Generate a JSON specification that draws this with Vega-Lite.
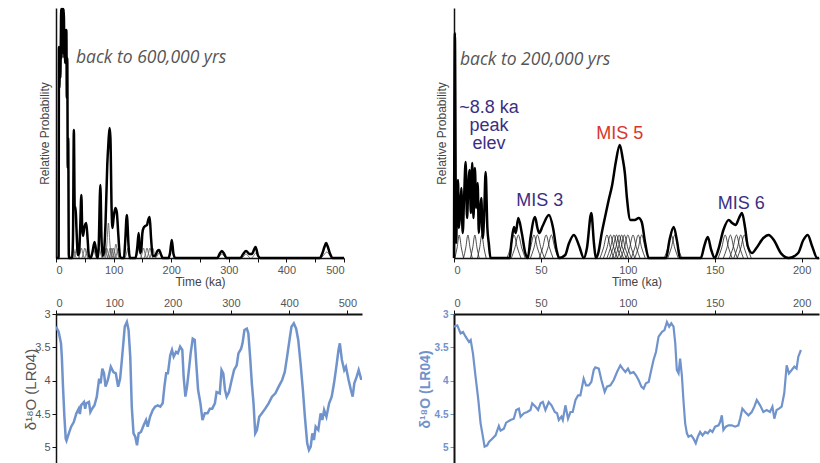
{
  "$schema": "https://vega.github.io/schema/vega-lite/v6.json",
  "padding": {"left": 23, "top": 4, "right": 0, "bottom": 0},
  "config": {"view": {"stroke": null}, "font": "Liberation Sans"},
  "datasets": {
    "sumL": [
      {"t":0,"p":0},{"t":4.5,"p":0},{"t":5.2,"p":211},{"t":6,"p":170},{"t":6.8,"p":211},{"t":7.5,"p":180},{"t":8.3,"p":211},{"t":9,"p":249},{"t":9.6,"p":200},{"t":10.3,"p":249},{"t":11,"p":205},{"t":11.7,"p":249},{"t":12.4,"p":205},{"t":13.1,"p":249},{"t":13.8,"p":240},{"t":14.5,"p":200},{"t":15.2,"p":228},{"t":15.9,"p":195},{"t":16.6,"p":228},{"t":17.3,"p":195},{"t":18,"p":228},{"t":18.8,"p":160},{"t":19.6,"p":200},{"t":20.4,"p":90},{"t":21.2,"p":120},{"t":22.3,"p":0},
      {"t":28,"p":0},{"t":29.5,"p":20},{"t":31,"p":128},{"t":32.5,"p":50},{"t":34,"p":51},{"t":35.5,"p":30},{"t":38,"p":3},{"t":40,"p":5},{"t":42,"p":30},{"t":44,"p":63},{"t":45.5,"p":30},{"t":47,"p":22},{"t":49,"p":30},{"t":52.5,"p":35},{"t":55,"p":18},{"t":57,"p":2},{"t":60,"p":0},{"t":63,"p":5},{"t":67,"p":16},{"t":70.5,"p":4},{"t":72.5,"p":0},{"t":74,"p":10},{"t":77,"p":73},{"t":79,"p":20},{"t":81,"p":2},{"t":83,"p":5},{"t":86,"p":35},{"t":89,"p":93},{"t":91,"p":115},{"t":93,"p":130},{"t":94.5,"p":120},{"t":96.5,"p":50},{"t":98,"p":30},{"t":100,"p":40},{"t":103,"p":50},{"t":105.5,"p":46},{"t":108,"p":25},{"t":111,"p":2},{"t":113,"p":0},{"t":118,"p":0},{"t":120,"p":15},{"t":123,"p":43},{"t":126,"p":12},{"t":128,"p":0},{"t":138,"p":0},{"t":141,"p":10},{"t":143.6,"p":25},{"t":146,"p":5},{"t":148,"p":8},{"t":150,"p":25},{"t":152,"p":30},{"t":155,"p":32},{"t":158,"p":33},{"t":160,"p":38},{"t":162.6,"p":41},{"t":165,"p":20},{"t":168,"p":2},{"t":172,"p":2},{"t":176,"p":7},{"t":179,"p":8},{"t":182,"p":4},{"t":185,"p":0},{"t":195,"p":0},{"t":198,"p":5},{"t":201,"p":18},{"t":204,"p":4},{"t":207,"p":0},{"t":280,"p":0},{"t":284,"p":4},{"t":288,"p":7},{"t":292,"p":4},{"t":296,"p":0},{"t":320,"p":0},{"t":325,"p":4},{"t":330,"p":7},{"t":336,"p":4},{"t":340,"p":4},{"t":346.5,"p":11},{"t":351,"p":2},{"t":355,"p":0},{"t":458,"p":0},{"t":462,"p":4},{"t":466,"p":11},{"t":469,"p":15},{"t":472,"p":11},{"t":476,"p":4},{"t":480,"p":0},{"t":500,"p":0}
    ],
    "compL": [
      {"id":"l1","t":25,"p":0},{"id":"l1","t":27.5,"p":4.5},{"id":"l1","t":30,"p":10},{"id":"l1","t":32.5,"p":4.5},{"id":"l1","t":35,"p":0},
      {"id":"l2","t":31,"p":0},{"id":"l2","t":33.5,"p":4.5},{"id":"l2","t":36,"p":10},{"id":"l2","t":38.5,"p":4.5},{"id":"l2","t":41,"p":0},
      {"id":"l3","t":39,"p":0},{"id":"l3","t":41.5,"p":4.5},{"id":"l3","t":44,"p":10},{"id":"l3","t":46.5,"p":4.5},{"id":"l3","t":49,"p":0},
      {"id":"l4","t":45,"p":0},{"id":"l4","t":47.5,"p":4.5},{"id":"l4","t":50,"p":10},{"id":"l4","t":52.5,"p":4.5},{"id":"l4","t":55,"p":0},
      {"id":"l5","t":50,"p":0},{"id":"l5","t":52.5,"p":4.5},{"id":"l5","t":55,"p":10},{"id":"l5","t":57.5,"p":4.5},{"id":"l5","t":60,"p":0},
      {"id":"l6","t":60,"p":0},{"id":"l6","t":62.5,"p":4.5},{"id":"l6","t":65,"p":10},{"id":"l6","t":67.5,"p":4.5},{"id":"l6","t":70,"p":0},
      {"id":"l7","t":70,"p":0},{"id":"l7","t":72.5,"p":4.5},{"id":"l7","t":75,"p":10},{"id":"l7","t":77.5,"p":4.5},{"id":"l7","t":80,"p":0},
      {"id":"l8","t":80,"p":0},{"id":"l8","t":82.5,"p":4.5},{"id":"l8","t":85,"p":10},{"id":"l8","t":87.5,"p":4.5},{"id":"l8","t":90,"p":0},
      {"id":"l9","t":83,"p":0},{"id":"l9","t":85.5,"p":4.5},{"id":"l9","t":88,"p":10},{"id":"l9","t":90.5,"p":4.5},{"id":"l9","t":93,"p":0},
      {"id":"l10","t":86,"p":0},{"id":"l10","t":88.5,"p":15},{"id":"l10","t":91,"p":35},{"id":"l10","t":93.5,"p":15},{"id":"l10","t":96,"p":0},
      {"id":"l11","t":89,"p":0},{"id":"l11","t":91.5,"p":4.5},{"id":"l11","t":94,"p":10},{"id":"l11","t":96.5,"p":4.5},{"id":"l11","t":99,"p":0},
      {"id":"l12","t":92,"p":0},{"id":"l12","t":94.5,"p":4.5},{"id":"l12","t":97,"p":10},{"id":"l12","t":99.5,"p":4.5},{"id":"l12","t":102,"p":0},
      {"id":"l13","t":95,"p":0},{"id":"l13","t":97.5,"p":4.5},{"id":"l13","t":100,"p":10},{"id":"l13","t":102.5,"p":4.5},{"id":"l13","t":105,"p":0},
      {"id":"l14","t":99,"p":0},{"id":"l14","t":101.5,"p":6},{"id":"l14","t":104,"p":14},{"id":"l14","t":106.5,"p":6},{"id":"l14","t":109,"p":0},
      {"id":"l15","t":103,"p":0},{"id":"l15","t":105.5,"p":4.5},{"id":"l15","t":108,"p":10},{"id":"l15","t":110.5,"p":4.5},{"id":"l15","t":113,"p":0},
      {"id":"l16","t":120,"p":0},{"id":"l16","t":122.5,"p":4.5},{"id":"l16","t":125,"p":10},{"id":"l16","t":127.5,"p":4.5},{"id":"l16","t":130,"p":0},
      {"id":"l17","t":139,"p":0},{"id":"l17","t":141.5,"p":4.5},{"id":"l17","t":144,"p":10},{"id":"l17","t":146.5,"p":4.5},{"id":"l17","t":149,"p":0},
      {"id":"l18","t":147,"p":0},{"id":"l18","t":149.5,"p":4.5},{"id":"l18","t":152,"p":10},{"id":"l18","t":154.5,"p":4.5},{"id":"l18","t":157,"p":0},
      {"id":"l19","t":153,"p":0},{"id":"l19","t":155.5,"p":4.5},{"id":"l19","t":158,"p":10},{"id":"l19","t":160.5,"p":4.5},{"id":"l19","t":163,"p":0},
      {"id":"l20","t":158,"p":0},{"id":"l20","t":160.5,"p":4.5},{"id":"l20","t":163,"p":10},{"id":"l20","t":165.5,"p":4.5},{"id":"l20","t":168,"p":0},
      {"id":"l21","t":163,"p":0},{"id":"l21","t":165.5,"p":4.5},{"id":"l21","t":168,"p":10},{"id":"l21","t":170.5,"p":4.5},{"id":"l21","t":173,"p":0},
      {"id":"l22","t":173,"p":0},{"id":"l22","t":176.5,"p":3},{"id":"l22","t":180,"p":6},{"id":"l22","t":183.5,"p":3},{"id":"l22","t":187,"p":0},
      {"id":"l23","t":281,"p":0},{"id":"l23","t":284.5,"p":2},{"id":"l23","t":288,"p":4},{"id":"l23","t":291.5,"p":2},{"id":"l23","t":295,"p":0},
      {"id":"l24","t":323,"p":0},{"id":"l24","t":326.5,"p":2},{"id":"l24","t":330,"p":4},{"id":"l24","t":333.5,"p":2},{"id":"l24","t":337,"p":0},
      {"id":"l25","t":340,"p":0},{"id":"l25","t":343.5,"p":2.5},{"id":"l25","t":347,"p":5},{"id":"l25","t":350.5,"p":2.5},{"id":"l25","t":354,"p":0},
      {"id":"l26","t":460,"p":0},{"id":"l26","t":465,"p":3},{"id":"l26","t":470,"p":6},{"id":"l26","t":475,"p":3},{"id":"l26","t":480,"p":0}
    ],
    "sumR": [
      {"t":0,"p":0},{"t":0.5,"p":225},{"t":1.2,"p":15},{"t":1.8,"p":60},{"t":2.3,"p":78},{"t":2.8,"p":30},{"t":3.5,"p":45},{"t":4.2,"p":70},{"t":5,"p":25},{"t":5.8,"p":60},{"t":6.7,"p":96},{"t":7.5,"p":40},{"t":8.2,"p":70},{"t":9,"p":88},{"t":9.7,"p":45},{"t":10.5,"p":95},{"t":11.2,"p":40},{"t":12,"p":90},{"t":12.8,"p":50},{"t":13.6,"p":75},{"t":14.3,"p":25},{"t":15,"p":45},{"t":15.7,"p":60},{"t":16.5,"p":20},{"t":17.3,"p":40},{"t":18.2,"p":86},{"t":19.2,"p":30},{"t":20,"p":15},{"t":21,"p":0},
      {"t":32,"p":0},{"t":33,"p":15},{"t":34.5,"p":31},{"t":35.5,"p":25},{"t":37,"p":40},{"t":39,"p":25},{"t":41,"p":5},{"t":42.5,"p":0},{"t":44,"p":20},{"t":46.6,"p":41},{"t":48,"p":30},{"t":49,"p":25},{"t":51,"p":32},{"t":54.6,"p":43},{"t":57,"p":30},{"t":59,"p":8},{"t":60.5,"p":0},{"t":64,"p":3},{"t":66,"p":14},{"t":69,"p":23},{"t":72,"p":12},{"t":74.7,"p":0},{"t":76.5,"p":10},{"t":79,"p":45},{"t":80.5,"p":15},{"t":81.6,"p":0},{"t":83,"p":5},{"t":85,"p":25},{"t":87.4,"p":45},{"t":89,"p":58},{"t":91,"p":73},{"t":93,"p":95},{"t":95.4,"p":113},{"t":97,"p":100},{"t":98.3,"p":85},{"t":99.5,"p":60},{"t":101.5,"p":38},{"t":104,"p":38},{"t":106.3,"p":40},{"t":108,"p":36},{"t":110,"p":15},{"t":112,"p":0},{"t":122,"p":0},{"t":124,"p":18},{"t":126.4,"p":31},{"t":128.5,"p":15},{"t":130,"p":0},{"t":142,"p":0},{"t":144,"p":12},{"t":146,"p":21},{"t":148,"p":8},{"t":150,"p":0},{"t":152,"p":8},{"t":155,"p":28},{"t":158,"p":38},{"t":160,"p":35},{"t":162,"p":33},{"t":164,"p":40},{"t":165.7,"p":45},{"t":167.5,"p":30},{"t":169,"p":12},{"t":171.5,"p":5},{"t":174,"p":10},{"t":178,"p":20},{"t":181,"p":23},{"t":184,"p":18},{"t":188,"p":5},{"t":192.5,"p":0},{"t":198,"p":5},{"t":201,"p":18},{"t":203.5,"p":23},{"t":206,"p":12},{"t":209,"p":0},{"t":210,"p":0}
    ],
    "compR": [
      {"id":"r1","t":30.5,"p":0},{"id":"r1","t":32.5,"p":10},{"id":"r1","t":34.5,"p":23},{"id":"r1","t":36.5,"p":10},{"id":"r1","t":38.5,"p":0},
      {"id":"r2","t":33,"p":0},{"id":"r2","t":35,"p":10},{"id":"r2","t":37,"p":23},{"id":"r2","t":39,"p":10},{"id":"r2","t":41,"p":0},
      {"id":"r3","t":42,"p":0},{"id":"r3","t":44,"p":10},{"id":"r3","t":46,"p":23},{"id":"r3","t":48,"p":10},{"id":"r3","t":50,"p":0},
      {"id":"r4","t":44,"p":0},{"id":"r4","t":46,"p":10},{"id":"r4","t":48,"p":23},{"id":"r4","t":50,"p":10},{"id":"r4","t":52,"p":0},
      {"id":"r5","t":49,"p":0},{"id":"r5","t":51,"p":10},{"id":"r5","t":53,"p":23},{"id":"r5","t":55,"p":10},{"id":"r5","t":57,"p":0},
      {"id":"r6","t":52,"p":0},{"id":"r6","t":54,"p":10},{"id":"r6","t":56,"p":23},{"id":"r6","t":58,"p":10},{"id":"r6","t":60,"p":0},
      {"id":"r7","t":84,"p":0},{"id":"r7","t":86,"p":10},{"id":"r7","t":88,"p":23},{"id":"r7","t":90,"p":10},{"id":"r7","t":92,"p":0},
      {"id":"r8","t":86,"p":0},{"id":"r8","t":88,"p":10},{"id":"r8","t":90,"p":23},{"id":"r8","t":92,"p":10},{"id":"r8","t":94,"p":0},
      {"id":"r9","t":88,"p":0},{"id":"r9","t":90,"p":10},{"id":"r9","t":92,"p":23},{"id":"r9","t":94,"p":10},{"id":"r9","t":96,"p":0},
      {"id":"r10","t":89.5,"p":0},{"id":"r10","t":91.5,"p":10},{"id":"r10","t":93.5,"p":23},{"id":"r10","t":95.5,"p":10},{"id":"r10","t":97.5,"p":0},
      {"id":"r11","t":91,"p":0},{"id":"r11","t":93,"p":10},{"id":"r11","t":95,"p":23},{"id":"r11","t":97,"p":10},{"id":"r11","t":99,"p":0},
      {"id":"r12","t":92.5,"p":0},{"id":"r12","t":94.5,"p":10},{"id":"r12","t":96.5,"p":23},{"id":"r12","t":98.5,"p":10},{"id":"r12","t":100.5,"p":0},
      {"id":"r13","t":94,"p":0},{"id":"r13","t":96,"p":10},{"id":"r13","t":98,"p":23},{"id":"r13","t":100,"p":10},{"id":"r13","t":102,"p":0},
      {"id":"r14","t":96,"p":0},{"id":"r14","t":98,"p":10},{"id":"r14","t":100,"p":23},{"id":"r14","t":102,"p":10},{"id":"r14","t":104,"p":0},
      {"id":"r15","t":99,"p":0},{"id":"r15","t":101,"p":10},{"id":"r15","t":103,"p":23},{"id":"r15","t":105,"p":10},{"id":"r15","t":107,"p":0},
      {"id":"r16","t":102,"p":0},{"id":"r16","t":104,"p":10},{"id":"r16","t":106,"p":23},{"id":"r16","t":108,"p":10},{"id":"r16","t":110,"p":0},
      {"id":"r17","t":104,"p":0},{"id":"r17","t":106,"p":10},{"id":"r17","t":108,"p":23},{"id":"r17","t":110,"p":10},{"id":"r17","t":112,"p":0},
      {"id":"r18","t":121,"p":0},{"id":"r18","t":123,"p":10},{"id":"r18","t":125,"p":23},{"id":"r18","t":127,"p":10},{"id":"r18","t":129,"p":0},
      {"id":"r19","t":123,"p":0},{"id":"r19","t":125,"p":10},{"id":"r19","t":127,"p":23},{"id":"r19","t":129,"p":10},{"id":"r19","t":131,"p":0},
      {"id":"r20","t":152,"p":0},{"id":"r20","t":154,"p":10},{"id":"r20","t":156,"p":23},{"id":"r20","t":158,"p":10},{"id":"r20","t":160,"p":0},
      {"id":"r21","t":155,"p":0},{"id":"r21","t":157,"p":10},{"id":"r21","t":159,"p":23},{"id":"r21","t":161,"p":10},{"id":"r21","t":163,"p":0},
      {"id":"r22","t":158.5,"p":0},{"id":"r22","t":160.5,"p":10},{"id":"r22","t":162.5,"p":23},{"id":"r22","t":164.5,"p":10},{"id":"r22","t":166.5,"p":0},
      {"id":"r23","t":161,"p":0},{"id":"r23","t":163,"p":10},{"id":"r23","t":165,"p":23},{"id":"r23","t":167,"p":10},{"id":"r23","t":169,"p":0},
      {"id":"r24","t":163,"p":0},{"id":"r24","t":165,"p":10},{"id":"r24","t":167,"p":23},{"id":"r24","t":169,"p":10},{"id":"r24","t":171,"p":0},
      {"id":"r25","t":0.5,"p":0},{"id":"r25","t":1.75,"p":10},{"id":"r25","t":3,"p":23},{"id":"r25","t":4.25,"p":10},{"id":"r25","t":5.5,"p":0},
      {"id":"r26","t":5.5,"p":0},{"id":"r26","t":6.75,"p":10},{"id":"r26","t":8,"p":23},{"id":"r26","t":9.25,"p":10},{"id":"r26","t":10.5,"p":0},
      {"id":"r27","t":9.5,"p":0},{"id":"r27","t":10.75,"p":10},{"id":"r27","t":12,"p":23},{"id":"r27","t":13.25,"p":10},{"id":"r27","t":14.5,"p":0},
      {"id":"r28","t":13.5,"p":0},{"id":"r28","t":14.75,"p":10},{"id":"r28","t":16,"p":23},{"id":"r28","t":17.25,"p":10},{"id":"r28","t":18.5,"p":0}
    ],
    "noteL": [{"t":34.6,"p":200,"label":"back to 600,000 yrs"}],
    "noteR": [
      {"t":3.4,"p":198,"label":"back to 200,000 yrs"},
      {"t":20.1,"p":150,"label":"~8.8 ka"},
      {"t":20.1,"p":132,"label":"peak"},
      {"t":20.1,"p":114,"label":"elev"},
      {"t":49.4,"p":57,"label":"MIS 3"},
      {"t":95.4,"p":124,"label":"MIS 5"},
      {"t":165.2,"p":54,"label":"MIS 6"}
    ],
    "lrL": [
      {"t":0,"d":3.19},{"t":4.6,"d":3.27},{"t":8.6,"d":3.44},{"t":10,"d":3.64},{"t":12,"d":4.09},{"t":14.4,"d":4.54},{"t":16.7,"d":4.87},{"t":18,"d":4.9},{"t":22,"d":4.79},{"t":26,"d":4.69},{"t":30.5,"d":4.62},{"t":35,"d":4.49},{"t":39,"d":4.42},{"t":41,"d":4.5},{"t":43,"d":4.37},{"t":48,"d":4.32},{"t":50,"d":4.42},{"t":52,"d":4.34},{"t":56.5,"d":4.32},{"t":59,"d":4.47},{"t":62,"d":4.42},{"t":66,"d":4.37},{"t":70,"d":4.24},{"t":74,"d":3.97},{"t":76.6,"d":4.04},{"t":79.5,"d":3.82},{"t":82.4,"d":3.89},{"t":85,"d":4.09},{"t":89,"d":3.99},{"t":94,"d":3.79},{"t":98.5,"d":3.87},{"t":102.6,"d":3.89},{"t":106.6,"d":4.09},{"t":110,"d":3.97},{"t":113,"d":3.69},{"t":116,"d":3.39},{"t":118,"d":3.19},{"t":121.6,"d":3.12},{"t":124.5,"d":3.24},{"t":127.4,"d":3.64},{"t":130,"d":4.39},{"t":133,"d":4.79},{"t":136,"d":4.84},{"t":139,"d":4.97},{"t":141.8,"d":4.79},{"t":145.8,"d":4.77},{"t":150.4,"d":4.67},{"t":154.5,"d":4.59},{"t":157.3,"d":4.69},{"t":161.4,"d":4.54},{"t":166,"d":4.44},{"t":170,"d":4.39},{"t":174.6,"d":4.37},{"t":179,"d":4.39},{"t":183,"d":4.34},{"t":186,"d":4.09},{"t":189,"d":3.89},{"t":192,"d":3.89},{"t":196,"d":3.62},{"t":199,"d":3.54},{"t":202,"d":3.64},{"t":206,"d":3.57},{"t":209,"d":3.59},{"t":213,"d":3.49},{"t":216.7,"d":3.54},{"t":219,"d":3.94},{"t":222,"d":4.24},{"t":224.8,"d":4.09},{"t":228,"d":3.84},{"t":231,"d":3.59},{"t":234.6,"d":3.37},{"t":238,"d":3.39},{"t":241,"d":3.79},{"t":243.8,"d":4.14},{"t":247.8,"d":4.34},{"t":251.3,"d":4.59},{"t":255.3,"d":4.49},{"t":260,"d":4.49},{"t":264,"d":4.42},{"t":268,"d":4.42},{"t":272.6,"d":4.34},{"t":275.5,"d":4.17},{"t":281,"d":4.19},{"t":284,"d":3.84},{"t":287,"d":3.89},{"t":290,"d":4.14},{"t":292.8,"d":4.24},{"t":296.8,"d":4.17},{"t":301.4,"d":3.99},{"t":305.5,"d":3.84},{"t":310,"d":3.77},{"t":313,"d":3.59},{"t":317.6,"d":3.52},{"t":320,"d":3.44},{"t":323.3,"d":3.24},{"t":327.4,"d":3.22},{"t":330,"d":3.29},{"t":333,"d":3.64},{"t":336,"d":4.04},{"t":338.9,"d":4.34},{"t":341.8,"d":4.79},{"t":344.7,"d":4.74},{"t":348.7,"d":4.54},{"t":353.3,"d":4.49},{"t":359,"d":4.42},{"t":364.8,"d":4.34},{"t":370.6,"d":4.24},{"t":376.4,"d":4.19},{"t":382,"d":4.09},{"t":388,"d":3.99},{"t":392.5,"d":3.87},{"t":396.5,"d":3.64},{"t":400.6,"d":3.39},{"t":404,"d":3.19},{"t":408,"d":3.14},{"t":412,"d":3.22},{"t":415.6,"d":3.39},{"t":419.6,"d":3.74},{"t":423.6,"d":4.14},{"t":427,"d":4.54},{"t":431,"d":4.94},{"t":434,"d":5.04},{"t":437,"d":4.99},{"t":439.8,"d":4.79},{"t":442.6,"d":4.89},{"t":445.5,"d":4.69},{"t":450,"d":4.74},{"t":454,"d":4.49},{"t":457,"d":4.59},{"t":460,"d":4.44},{"t":464,"d":4.54},{"t":468.6,"d":4.34},{"t":473,"d":4.24},{"t":477,"d":4.04},{"t":481,"d":3.79},{"t":484.7,"d":3.54},{"t":487,"d":3.44},{"t":490.5,"d":3.69},{"t":494.5,"d":3.84},{"t":497.4,"d":3.79},{"t":502,"d":3.99},{"t":506,"d":4.14},{"t":509,"d":4.24},{"t":511.8,"d":4.04},{"t":515.9,"d":3.94},{"t":519.3,"d":3.84},{"t":523.3,"d":3.97},{"t":526,"d":3.97}
    ],
    "lrR": [
      {"t":0,"d":3.19},{"t":1.9,"d":3.17},{"t":3.8,"d":3.29},{"t":5.2,"d":3.27},{"t":6.7,"d":3.34},{"t":8.6,"d":3.42},{"t":9.6,"d":3.39},{"t":10.9,"d":3.59},{"t":12.4,"d":3.94},{"t":14,"d":4.29},{"t":15.3,"d":4.64},{"t":16.3,"d":4.79},{"t":17.6,"d":4.99},{"t":19.1,"d":4.97},{"t":20.1,"d":4.92},{"t":22,"d":4.87},{"t":23.9,"d":4.82},{"t":25.8,"d":4.68},{"t":26.8,"d":4.75},{"t":28.7,"d":4.72},{"t":30,"d":4.63},{"t":32.5,"d":4.59},{"t":34.4,"d":4.57},{"t":35.8,"d":4.44},{"t":37.3,"d":4.42},{"t":38.3,"d":4.54},{"t":40.2,"d":4.49},{"t":42.1,"d":4.47},{"t":44,"d":4.44},{"t":45,"d":4.34},{"t":46.9,"d":4.39},{"t":48.4,"d":4.44},{"t":49.8,"d":4.34},{"t":51.1,"d":4.32},{"t":52.6,"d":4.44},{"t":54.5,"d":4.32},{"t":56.1,"d":4.37},{"t":58,"d":4.47},{"t":59.3,"d":4.49},{"t":60.3,"d":4.59},{"t":61.8,"d":4.54},{"t":62.6,"d":4.59},{"t":64.1,"d":4.37},{"t":65.6,"d":4.57},{"t":67,"d":4.47},{"t":68.3,"d":4.47},{"t":69.9,"d":4.29},{"t":71.4,"d":4.22},{"t":72.7,"d":4.22},{"t":73.7,"d":4.09},{"t":74.6,"d":3.97},{"t":76,"d":4.07},{"t":77.5,"d":4.07},{"t":79,"d":4.02},{"t":80.4,"d":3.84},{"t":81.3,"d":3.8},{"t":83.3,"d":3.82},{"t":84.8,"d":3.99},{"t":86.7,"d":4.17},{"t":88,"d":4.09},{"t":90,"d":4.07},{"t":91.9,"d":3.99},{"t":93.8,"d":3.87},{"t":95.7,"d":3.77},{"t":97,"d":3.82},{"t":98.6,"d":3.87},{"t":100.1,"d":3.82},{"t":101.4,"d":3.89},{"t":103.3,"d":3.87},{"t":104.7,"d":3.92},{"t":106.2,"d":3.99},{"t":107.8,"d":4.09},{"t":109.1,"d":4.12},{"t":110.4,"d":4.04},{"t":112,"d":4.02},{"t":113.5,"d":3.84},{"t":114.8,"d":3.69},{"t":116.2,"d":3.57},{"t":117.7,"d":3.34},{"t":119.6,"d":3.27},{"t":121.1,"d":3.24},{"t":122.5,"d":3.12},{"t":123.8,"d":3.19},{"t":125,"d":3.14},{"t":126.3,"d":3.19},{"t":127.3,"d":3.44},{"t":128.2,"d":3.84},{"t":129.2,"d":3.89},{"t":130.1,"d":3.67},{"t":131.1,"d":3.92},{"t":132,"d":4.29},{"t":133,"d":4.64},{"t":134,"d":4.79},{"t":134.9,"d":4.84},{"t":136.5,"d":4.82},{"t":137.8,"d":4.87},{"t":139.1,"d":4.94},{"t":140.3,"d":4.84},{"t":141.6,"d":4.77},{"t":143,"d":4.82},{"t":144.5,"d":4.77},{"t":146,"d":4.79},{"t":147.4,"d":4.74},{"t":148.7,"d":4.77},{"t":150.2,"d":4.69},{"t":152.2,"d":4.67},{"t":153.1,"d":4.62},{"t":154.1,"d":4.52},{"t":155,"d":4.74},{"t":156.4,"d":4.69},{"t":157.9,"d":4.67},{"t":159.8,"d":4.67},{"t":161.7,"d":4.69},{"t":163.6,"d":4.67},{"t":164.6,"d":4.57},{"t":165.9,"d":4.42},{"t":167.5,"d":4.47},{"t":169.4,"d":4.52},{"t":171.3,"d":4.47},{"t":172.8,"d":4.39},{"t":174.2,"d":4.29},{"t":176.1,"d":4.37},{"t":178,"d":4.47},{"t":179.9,"d":4.44},{"t":181.8,"d":4.47},{"t":183.2,"d":4.39},{"t":184.3,"d":4.57},{"t":185.6,"d":4.44},{"t":187,"d":4.42},{"t":188.5,"d":4.39},{"t":190,"d":4.19},{"t":191.4,"d":3.77},{"t":192.7,"d":3.89},{"t":194.3,"d":3.84},{"t":195.8,"d":3.79},{"t":197.1,"d":3.82},{"t":198.1,"d":3.64},{"t":199.6,"d":3.54}
    ]
  },
  "columns": 2,
  "spacing": {"row": 56, "column": 33},
  "bounds": "flush",
  "align": "all",
  "concat": [
    {
      "width": 288,
      "height": 250,
      "encoding": {
        "x": {"field": "t", "type": "quantitative", "scale": {"domain": [0, 500]},
          "axis": {"title": "Time (ka)", "values": [0,50,100,150,200,250,300,350,400,450,500], "labelExpr": "datum.value % 100 === 0 ? datum.label : ''", "grid": false, "domainColor": "#111", "domainWidth": 1.5, "tickColor": "#111", "tickSize": 4, "labelFontSize": 11, "labelColor": "#555", "labelPadding": 2, "titleFontSize": 12, "titleFontWeight": "normal", "titleColor": "#444", "titlePadding": 1}},
        "y": {"field": "p", "type": "quantitative", "scale": {"domain": [0, 250]},
          "axis": {"title": "Relative Probability", "labels": false, "ticks": false, "grid": false, "domainColor": "#111", "domainWidth": 1.5, "titleFontSize": 12, "titleFontWeight": "normal", "titleColor": "#444", "titlePadding": 5}}
      },
      "layer": [
        {"data": {"name": "compL"}, "mark": {"type": "line", "color": "#555", "strokeWidth": 0.8, "interpolate": "monotone"}, "encoding": {"detail": {"field": "id"}}},
        {"data": {"name": "sumL"}, "mark": {"type": "line", "color": "#000", "strokeWidth": 2.5, "interpolate": "monotone"}},
        {"data": {"name": "noteL"}, "mark": {"type": "text", "align": "left", "baseline": "middle", "font": "Open Sans", "fontStyle": "italic", "fontSize": 17.5, "color": "#555"}, "encoding": {"text": {"field": "label"}}}
      ]
    },
    {
      "width": 365,
      "height": 250,
      "encoding": {
        "x": {"field": "t", "type": "quantitative", "scale": {"domain": [0, 210]},
          "axis": {"title": "Time (ka)", "values": [0,50,100,150,200], "grid": false, "domainColor": "#111", "domainWidth": 1.5, "tickColor": "#111", "tickSize": 4, "labelFontSize": 11, "labelColor": "#555", "labelPadding": 2, "titleFontSize": 12, "titleFontWeight": "normal", "titleColor": "#444", "titlePadding": 1}},
        "y": {"field": "p", "type": "quantitative", "scale": {"domain": [0, 250]},
          "axis": {"title": "Relative Probability", "labels": false, "ticks": false, "grid": false, "domainColor": "#111", "domainWidth": 1.5, "titleFontSize": 12, "titleFontWeight": "normal", "titleColor": "#444", "titlePadding": 6}}
      },
      "layer": [
        {"data": {"name": "compR"}, "mark": {"type": "line", "color": "#222", "strokeWidth": 0.8, "interpolate": "monotone"}, "encoding": {"detail": {"field": "id"}}},
        {"data": {"name": "sumR"}, "mark": {"type": "line", "color": "#000", "strokeWidth": 2.5, "interpolate": "monotone"}},
        {"data": {"name": "noteR"}, "transform": [{"filter": "indexof(datum.label, 'back') === 0"}], "mark": {"type": "text", "align": "left", "baseline": "middle", "font": "Open Sans", "fontStyle": "italic", "fontSize": 17.5, "color": "#555"}, "encoding": {"text": {"field": "label"}}},
        {"data": {"name": "noteR"}, "transform": [{"filter": "indexof(datum.label, 'back') !== 0 && datum.label !== 'MIS 5'"}], "mark": {"type": "text", "align": "center", "baseline": "middle", "fontSize": 18, "color": "#3b2f82"}, "encoding": {"text": {"field": "label"}}},
        {"data": {"name": "noteR"}, "transform": [{"filter": "datum.label === 'MIS 5'"}], "mark": {"type": "text", "align": "center", "baseline": "middle", "fontSize": 18, "color": "#d9362b"}, "encoding": {"text": {"field": "label"}}}
      ]
    },
    {
      "width": 306,
      "height": 150,
      "data": {"name": "lrL"},
      "mark": {"type": "line", "color": "#7093cc", "strokeWidth": 2.5, "clip": true},
      "encoding": {
        "x": {"field": "t", "type": "quantitative", "scale": {"domain": [0, 525]},
          "axis": {"orient": "top", "title": null, "values": [0,100,200,300,400,500], "grid": false, "domainColor": "#111", "domainWidth": 2, "tickColor": "#111", "tickSize": 4, "labelFontSize": 11, "labelColor": "#555", "labelPadding": 2}},
        "y": {"field": "d", "type": "quantitative", "scale": {"domain": [3, 5.25], "reverse": true, "nice": false, "zero": false},
          "axis": {"title": "δ¹⁸O (LR04)", "values": [3,3.5,4,4.5,5], "format": "~g", "grid": false, "domainColor": "#111", "domainWidth": 1.5, "tickColor": "#111", "tickSize": 4, "labelFontSize": 11, "labelColor": "#555", "labelPadding": 2, "titleFontSize": 15, "titleFontWeight": "normal", "titleColor": "#555", "titlePadding": -4}}
      }
    },
    {
      "width": 365,
      "height": 150,
      "data": {"name": "lrR"},
      "mark": {"type": "line", "color": "#7093cc", "strokeWidth": 2.2, "clip": true},
      "encoding": {
        "x": {"field": "t", "type": "quantitative", "scale": {"domain": [0, 210]},
          "axis": {"orient": "top", "title": null, "values": [0,50,100,150,200], "grid": false, "domainColor": "#111", "domainWidth": 2, "tickColor": "#111", "tickSize": 4, "labelFontSize": 11, "labelColor": "#555", "labelPadding": 2}},
        "y": {"field": "d", "type": "quantitative", "scale": {"domain": [3, 5.25], "reverse": true, "nice": false, "zero": false},
          "axis": {"title": "δ¹⁸O (LR04)", "values": [3,3.5,4,4.5,5], "format": "~g", "grid": false, "domainColor": "#111", "domainWidth": 2, "tickColor": "#7093cc", "tickSize": 4, "labelFontSize": 10, "labelFontWeight": "bold", "labelColor": "#7093cc", "labelPadding": 2, "titleFontSize": 14, "titleFontWeight": "bold", "titleColor": "#7093cc", "titlePadding": 2}}
      }
    }
  ]
}
